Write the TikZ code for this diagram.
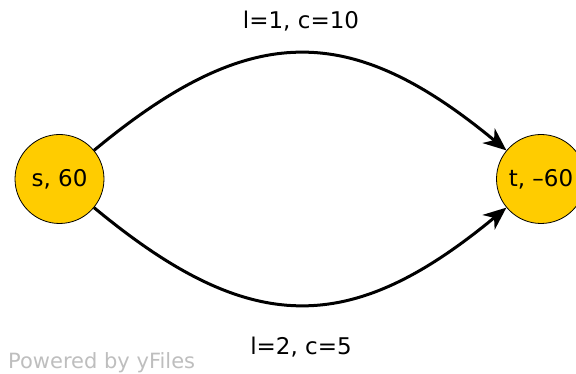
\documentclass[tikz,border=0pt]{standalone}
\usepackage{fontspec}
\setmainfont{DejaVu Sans}
\usetikzlibrary{arrows.meta}
\definecolor{nodeyellow}{HTML}{FFCC00}
\definecolor{wmgray}{HTML}{BEBEBE}
\begin{document}
\begin{tikzpicture}[x=1pt,y=-1pt,
  vert/.style={circle,draw=black,line width=0.8pt,fill=nodeyellow,minimum size=89pt,inner sep=0pt,font=\fontsize{23}{26}\selectfont},
  edge/.style={line width=3pt,-{Stealth[length=23pt,width=19pt,inset=7pt]}},
  lbl/.style={font=\fontsize{23}{26}\selectfont,inner sep=0pt}]
\useasboundingbox (0,0) rectangle (576,374);
\node[vert] (s) at (59.5,179) {s, 60};
\node[vert] (t) at (541,179) {t, –60};
\draw[edge] (s) .. controls (250,21) and (350,21) .. (t);
\draw[edge] (s) .. controls (250,337) and (350,337) .. (t);
\node[lbl] (l1) at (301,21) {l=1, c=10};
\node[lbl] (l2) at (301,347) {l=2, c=5};
\node[lbl,font=\fontsize{21}{24}\selectfont,anchor=base west,text=wmgray] (wm) at (8,368) {Powered by yFiles};
\end{tikzpicture}
\end{document}
